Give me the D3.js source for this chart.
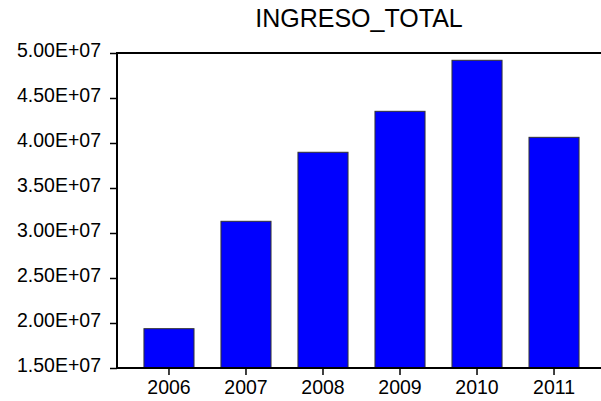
<!DOCTYPE html>
<html lang="en">
<head>
  <meta charset="UTF-8">
  <title>INGRESO_TOTAL</title>
  <script src="https://d3js.org/d3.v7.min.js"></script>
  <style>
    body { margin: 0; background: #fff; }
    text { font-family: "Liberation Sans", Arial, sans-serif; fill: #000; }
    .bar { fill: #0000ff; stroke: #333; stroke-width: 1px; }
    .frame { stroke: #000; stroke-width: 2px; }
  </style>
</head>
<body>
  <svg width="601" height="401"></svg>

  <script>
    var years = ["2006", "2007", "2008", "2009", "2010", "2011"];
    var ingreso = [19370000, 31300000, 38970000, 43520000, 49190000, 40630000];
    var yTicks = [15000000, 20000000, 25000000, 30000000, 35000000, 40000000, 45000000, 50000000];
    var yTickLabels = ["1.50E+07", "2.00E+07", "2.50E+07", "3.00E+07",
                       "3.50E+07", "4.00E+07", "4.50E+07", "5.00E+07"];

    var svg = d3.select("svg");
    // note: "top" is a reserved window property, so use plot* names
    var plotLeft = 117, plotTop = 53, plotBottom = 368, plotRight = 601;

    var x = d3.scaleBand()
        .domain(years)
        .range([plotLeft, 606])
        .padding(0.35);

    var y = d3.scaleLinear()
        .domain([15000000, 50000000])
        .range([plotBottom, plotTop]);

    // bars
    svg.selectAll(".bar")
        .data(ingreso)
        .enter().append("rect")
        .attr("class", "bar")
        .attr("x", function(d, i) { return x(years[i]); })
        .attr("y", function(d) { return y(d); })
        .attr("width", x.bandwidth())
        .attr("height", function(d) { return plotBottom - y(d); });

    // y axis
    var yAxis = d3.axisLeft(y)
        .tickValues(yTicks)
        .tickSize(7)
        .tickPadding(9)
        .tickFormat(function(d, i) { return yTickLabels[i]; });

    var gy = svg.append("g")
        .attr("transform", "translate(" + plotLeft + ",0)")
        .call(yAxis);
    gy.select(".domain").remove();
    gy.selectAll(".tick line").attr("stroke", "#000").attr("stroke-width", 1.5);
    gy.selectAll(".tick text")
        .style("font-size", "19.5px")
        .style("font-family", "'Liberation Sans', Arial, sans-serif")
        .attr("dy", "0.2em");

    // x axis
    var xAxis = d3.axisBottom(x)
        .tickSize(7)
        .tickPadding(5);

    var gx = svg.append("g")
        .attr("transform", "translate(0," + plotBottom + ")")
        .call(xAxis);
    gx.select(".domain").remove();
    gx.selectAll(".tick line").attr("stroke", "#000").attr("stroke-width", 1.5);
    gx.selectAll(".tick text")
        .style("font-size", "19.5px")
        .style("font-family", "'Liberation Sans', Arial, sans-serif");

    // frame: left, top and bottom lines
    svg.append("line").attr("class", "frame")
        .attr("x1", plotLeft).attr("x2", plotLeft).attr("y1", plotTop - 1).attr("y2", plotBottom + 1);
    svg.append("line").attr("class", "frame")
        .attr("x1", plotLeft - 1).attr("x2", plotRight).attr("y1", plotTop).attr("y2", plotTop);
    svg.append("line").attr("class", "frame")
        .attr("x1", plotLeft - 1).attr("x2", plotRight).attr("y1", plotBottom).attr("y2", plotBottom);

    // title
    svg.append("text")
        .attr("x", 359)
        .attr("y", 27)
        .attr("text-anchor", "middle")
        .style("font-size", "25px")
        .text("INGRESO_TOTAL");
  </script>
</body>
</html>
